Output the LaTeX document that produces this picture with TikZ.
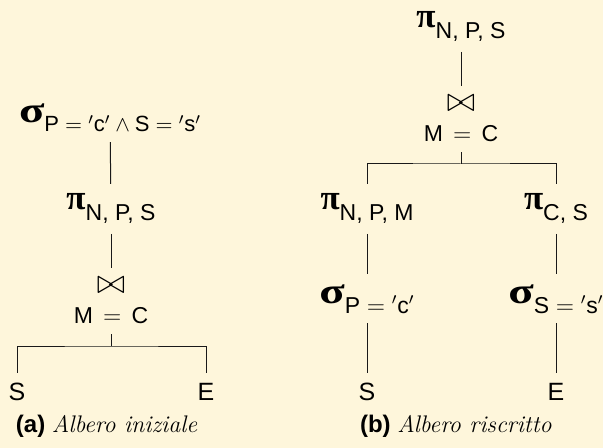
\documentclass[tikz,border=0pt]{standalone}
\usepackage{amsmath}
\usepackage{graphicx}
\usepackage{fontspec}
\setsansfont{Liberation Sans}
\newfontfamily\grkfont{Liberation Serif}
\definecolor{bg}{RGB}{254,246,219}
\newcommand{\sigsym}{{\fontsize{18}{18}\selectfont\grkfont\bfseries\scalebox{1.3}[1]{σ}}}
\newcommand{\pisym}{{\fontsize{17.5}{18}\selectfont\grkfont\bfseries π}}
\newcommand{\opsub}[2]{\raisebox{-#1pt}{\fontsize{11.5}{13}\selectfont\sffamily #2}}
\newcommand{\joinsym}[1]{{\fontsize{19}{19}\selectfont$\bowtie$}\\[3pt]{\fontsize{11.5}{13}\selectfont\sffamily #1}}
\newcommand{\leaf}[1]{{\fontsize{12.5}{14}\selectfont\sffamily #1}}
\newcommand{\capt}[2]{{\fontsize{12}{14}\selectfont\sffamily\bfseries (#1)}\ {\fontsize{12}{14}\selectfont\itshape #2}}
\begin{document}
\begin{tikzpicture}[x=0.5pt,y=-0.5pt,
  every node/.style={inner sep=0pt, outer sep=0pt},
  op/.style={anchor=base},
  joinop/.style={anchor=center, align=center},
  captnode/.style={anchor=base west},
  edge/.style={line width=0.5pt, draw=black!90, shorten <=5pt, shorten >=5pt},
  forkedge/.style={line width=0.5pt, draw=black!90, shorten <=5pt}]
\fill[bg] (0,0) rectangle (603,448);
\useasboundingbox (0,0) rectangle (603,448);
% ---- left tree
\node[op] (sigL) at (110,123) {\sigsym\raisebox{-4.5pt}{\fontsize{11}{13}\selectfont\sffamily $\text{P} = {}'\text{c}' \wedge \text{S} = {}'\text{s}'$}};
\node[op] (piL) at (111,210) {\pisym\opsub{5.5}{N, P, S}};
\node[joinop] (joinL) at (111,301) {\joinsym{M\;\,$=$\;\,C}};
\coordinate (fkL) at (111,346);
\node[op] (SL) at (17,400) {\leaf{S}};
\node[op] (EL) at (206,400) {\leaf{E}};
\node[captnode] (capA) at (16,432) {\capt{a}{Albero iniziale}};
\draw[edge] (sigL) -- (piL);
\draw[edge] (piL) -- (joinL);
\draw[forkedge] (joinL) -- (fkL);
\draw[edge] (SL.north) |- (fkL) -| (EL.north);
% ---- right tree
\node[op] (piT) at (461,28) {\pisym\opsub{5.5}{N, P, S}};
\node[joinop] (joinR) at (461,119) {\joinsym{M\;\,$=$\;\,C}};
\coordinate (fkR) at (461,164);
\node[op] (piA) at (367,210) {\pisym\opsub{5.5}{N, P, M}};
\node[op] (piB) at (556,210) {\pisym\opsub{5.5}{C, S}};
\node[op] (sigA) at (367,303) {\sigsym\opsub{5}{$\text{P} = {}'\text{c}'$}};
\node[op] (sigB) at (556,303) {\sigsym\opsub{5}{$\text{S} = {}'\text{s}'$}};
\node[op] (SR) at (367,400) {\leaf{S}};
\node[op] (ER) at (556,400) {\leaf{E}};
\node[captnode] (capB) at (360,432) {\capt{b}{Albero riscritto}};
\draw[edge] (piT) -- (joinR);
\draw[forkedge] (joinR) -- (fkR);
\draw[edge] (piA.north) |- (fkR) -| (piB.north);
\draw[edge] (piA) -- (sigA);
\draw[edge] (piB) -- (sigB);
\draw[edge] (sigA) -- (SR);
\draw[edge] (sigB) -- (ER);
\end{tikzpicture}
\end{document}
